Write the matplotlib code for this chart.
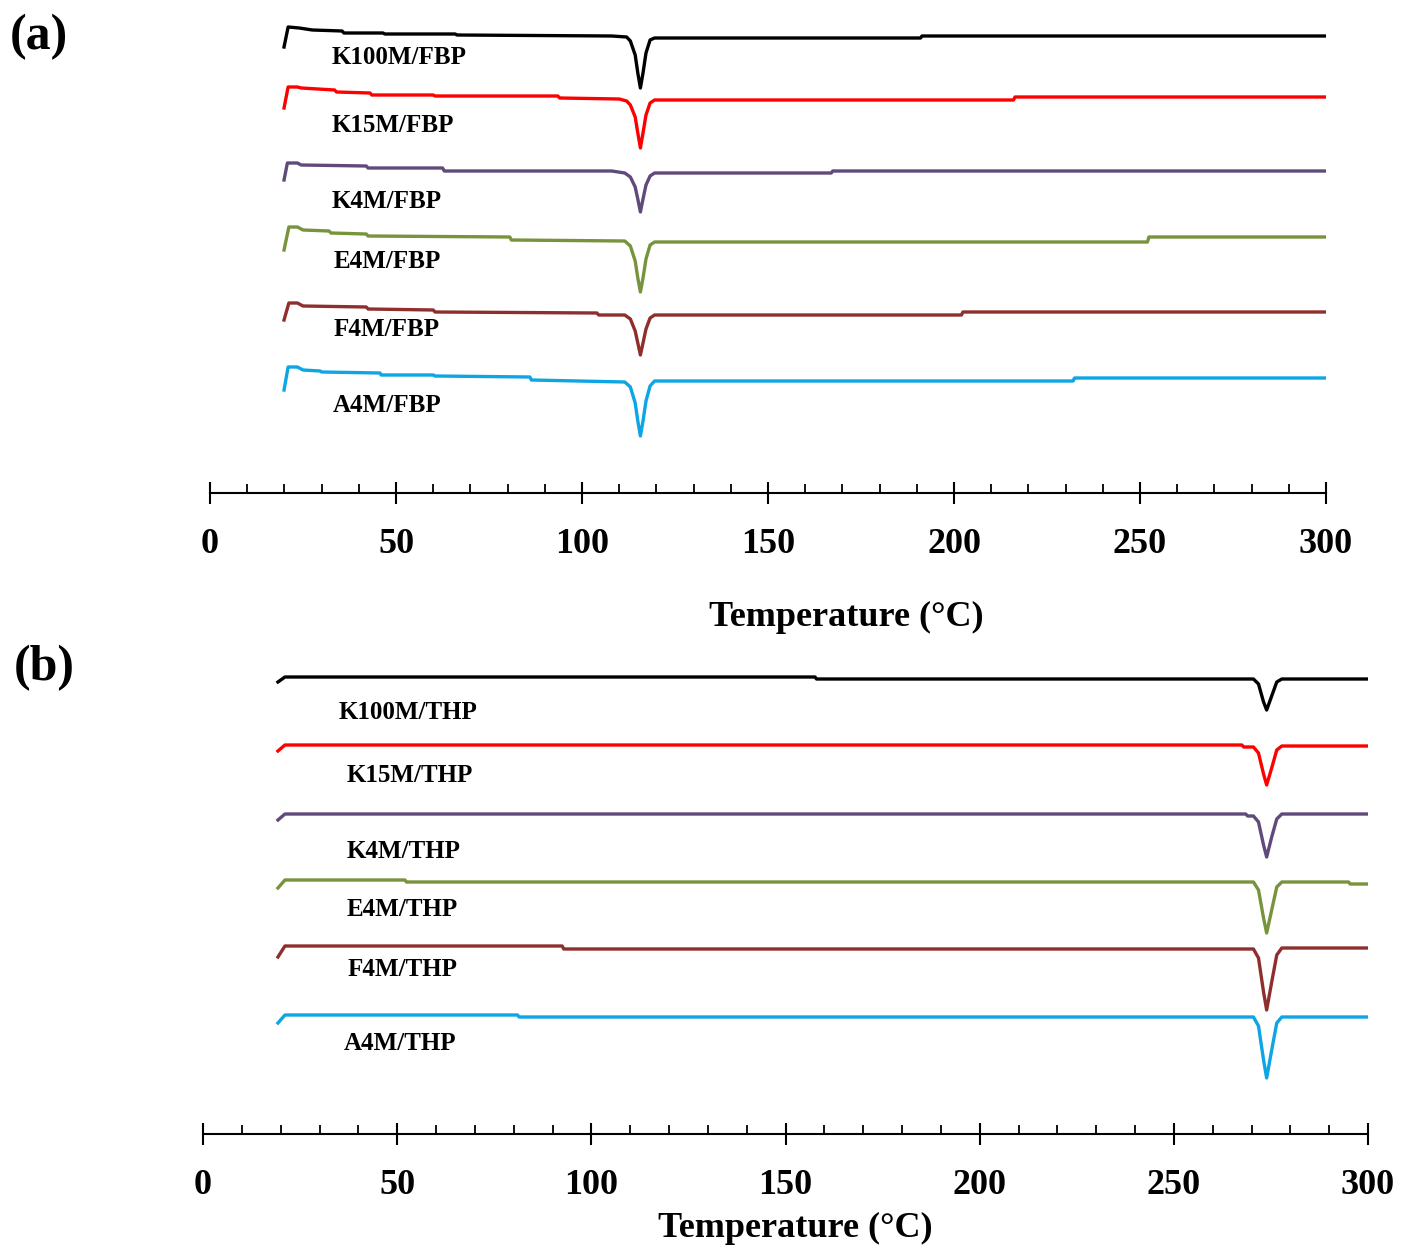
import matplotlib
matplotlib.use("Agg")
import matplotlib.pyplot as plt
from matplotlib.ticker import MultipleLocator

plt.rcParams["font.family"] = ["Liberation Serif", "DejaVu Serif"]
plt.rcParams["font.weight"] = "bold"

# ---- panel (a): FBP blends, heat flow (arbitrary units, offset per trace)
a_names = ["K100M/FBP", "K15M/FBP", "K4M/FBP", "E4M/FBP", "F4M/FBP", "A4M/FBP"]
a_T = [
    [19.9, 21.0, 24.0, 27.5, 35.5, 36.0, 46.5, 47.0, 65.9, 66.4, 108.0, 112.0, 113.0, 114.3, 115.0, 115.7, 116.4, 117.2, 118.3, 119.5, 191.0, 191.4, 300.0],
    [19.9, 21.0, 23.5, 24.5, 33.5, 34.0, 43.0, 43.5, 60.0, 60.5, 93.5, 94.0, 110.0, 112.0, 113.0, 114.3, 115.0, 115.7, 116.4, 117.2, 118.3, 119.5, 216.0, 216.4, 300.0],
    [19.9, 20.8, 23.5, 24.5, 42.0, 42.5, 62.5, 63.0, 108.0, 111.5, 113.0, 114.3, 115.0, 115.7, 116.4, 117.2, 118.3, 119.5, 167.0, 167.4, 300.0],
    [19.9, 21.2, 23.5, 25.0, 32.0, 32.5, 42.0, 42.5, 80.6, 81.0, 111.5, 113.0, 114.3, 115.0, 115.7, 116.4, 117.2, 118.3, 119.5, 252.0, 252.4, 300.0],
    [19.9, 21.2, 23.5, 25.0, 42.0, 42.5, 60.0, 60.5, 104.0, 104.5, 111.5, 113.0, 114.3, 115.0, 115.7, 116.4, 117.2, 118.3, 119.5, 202.0, 202.4, 300.0],
    [19.9, 21.0, 23.5, 25.0, 29.6, 30.0, 45.7, 46.0, 60.0, 60.5, 86.0, 86.4, 111.5, 113.0, 114.3, 115.0, 115.7, 116.4, 117.2, 118.3, 119.5, 232.0, 232.4, 300.0],
]
a_H = [
    [446, 466, 465, 463, 462, 460, 460, 459, 459, 458, 457, 456, 452, 438, 420, 405, 420, 440, 453, 455, 455, 457, 457],
    [385, 406, 406, 405, 403, 401, 400, 398, 398, 397, 397, 395, 394, 392, 388, 376, 360, 345, 360, 378, 390, 393, 393, 396, 396],
    [313, 330, 330, 328, 327, 325, 325, 322, 322, 320, 316, 306, 294, 281, 294, 308, 317, 320, 320, 322, 322],
    [243, 266, 266, 263, 262, 260, 259, 257, 256, 253, 252, 247, 232, 215, 201, 215, 234, 248, 251, 251, 256, 256],
    [173, 190, 190, 187, 186, 184, 183, 181, 180, 178, 178, 174, 162, 150, 138, 150, 164, 175, 178, 178, 181, 181],
    [103, 126, 126, 123, 122, 121, 120, 118, 118, 117, 116, 113, 111, 106, 90, 72, 57, 72, 92, 107, 112, 112, 115, 115],
]
a_label_T = [32.8, 32.8, 32.8, 33.1, 33.1, 33.1]
a_label_H = [435, 367, 291, 231, 163, 88]

# ---- panel (b): THP blends
b_names = ["K100M/THP", "K15M/THP", "K4M/THP", "E4M/THP", "F4M/THP", "A4M/THP"]
b_T = [
    [19.3, 21.1, 157.6, 158.0, 270.5, 271.8, 273.1, 273.9, 275.2, 276.5, 277.8, 300.0],
    [19.3, 21.1, 267.5, 268.0, 270.5, 271.8, 273.1, 273.9, 275.2, 276.5, 277.8, 300.0],
    [19.3, 21.1, 268.5, 269.0, 270.5, 271.8, 273.1, 273.9, 275.2, 276.5, 277.8, 300.0],
    [19.3, 21.1, 52.0, 52.4, 270.5, 271.8, 273.1, 273.9, 275.2, 276.5, 277.8, 295.0, 295.4, 300.0],
    [19.3, 21.1, 92.5, 92.9, 270.5, 271.8, 273.1, 273.9, 275.2, 276.5, 277.8, 300.0],
    [19.3, 21.1, 81.0, 81.4, 270.5, 271.8, 273.1, 273.9, 275.2, 276.5, 277.8, 300.0],
]
b_H = [
    [452, 457, 457, 455, 455, 450, 432, 424, 438, 452, 455, 455],
    [383, 389, 389, 387, 387, 381, 360, 349, 366, 384, 388, 388],
    [314, 320, 320, 318, 318, 312, 289, 277, 297, 315, 320, 320],
    [246, 254, 254, 252, 252, 244, 216, 201, 224, 247, 252, 252, 250, 250],
    [177, 188, 188, 185, 185, 176, 142, 124, 152, 179, 186, 186],
    [111, 119, 119, 117, 117, 108, 74, 56, 84, 111, 117, 117],
]
b_label_T = [34.8, 37.1, 37.1, 37.1, 37.1, 36.3]
b_label_H = [422, 358, 282, 224, 164, 90]

colors = ["#000000", "#ff0000", "#604a7b", "#77933c", "#8e2f2d", "#0ea5e5"]


def style_axis(ax, ymax):
    ax.set_xlim(0, 300)
    ax.set_ylim(0, ymax)
    for s in ["left", "right", "top"]:
        ax.spines[s].set_visible(False)
    ax.spines["bottom"].set_linewidth(1.5)
    ax.set_yticks([])
    ax.xaxis.set_major_locator(MultipleLocator(50))
    ax.xaxis.set_minor_locator(MultipleLocator(10))
    ax.tick_params(axis="x", which="major", direction="inout", length=16, width=1.5,
                   pad=17, labelsize=26)
    ax.tick_params(axis="x", which="minor", direction="in", length=6.5, width=1.3)
    for lab in ax.get_xticklabels():
        lab.set_fontweight("bold")
    ax.patch.set_alpha(0)


fig = plt.figure(figsize=(14.03, 12.5), dpi=100)

ax1 = fig.add_axes([0.14968, 0.6056, 0.79544, 0.3824])
for T, H, c in zip(a_T, a_H, colors):
    ax1.plot(T, H, color=c, linewidth=2.4, solid_joinstyle="round")
for name, x, y in zip(a_names, a_label_T, a_label_H):
    ax1.text(x, y, name, fontsize=18, fontweight="bold", va="center", ha="left")
style_axis(ax1, 478)
ax1.set_xlabel("Temperature (\u00b0C)", fontsize=26, fontweight="bold")
ax1.xaxis.label.set_va("center")
ax1.xaxis.set_label_coords(0.570, -0.2594)

ax2 = fig.add_axes([0.14469, 0.0928, 0.83037, 0.3792])
for T, H, c in zip(b_T, b_H, colors):
    ax2.plot(T, H, color=c, linewidth=2.4, solid_joinstyle="round")
for name, x, y in zip(b_names, b_label_T, b_label_H):
    ax2.text(x, y, name, fontsize=18, fontweight="bold", va="center", ha="left")
style_axis(ax2, 474)
ax2.set_xlabel("Temperature (\u00b0C)", fontsize=26, fontweight="bold")
ax2.xaxis.label.set_va("center")
ax2.xaxis.set_label_coords(0.508, -0.1983)

fig.text(10 / 1403, 1 - 37 / 1250, "(a)", fontsize=36, fontweight="bold", va="center", ha="left")
fig.text(14 / 1403, 1 - 668 / 1250, "(b)", fontsize=36, fontweight="bold", va="center", ha="left")

fig.savefig("out.png", dpi=100, facecolor="white")
